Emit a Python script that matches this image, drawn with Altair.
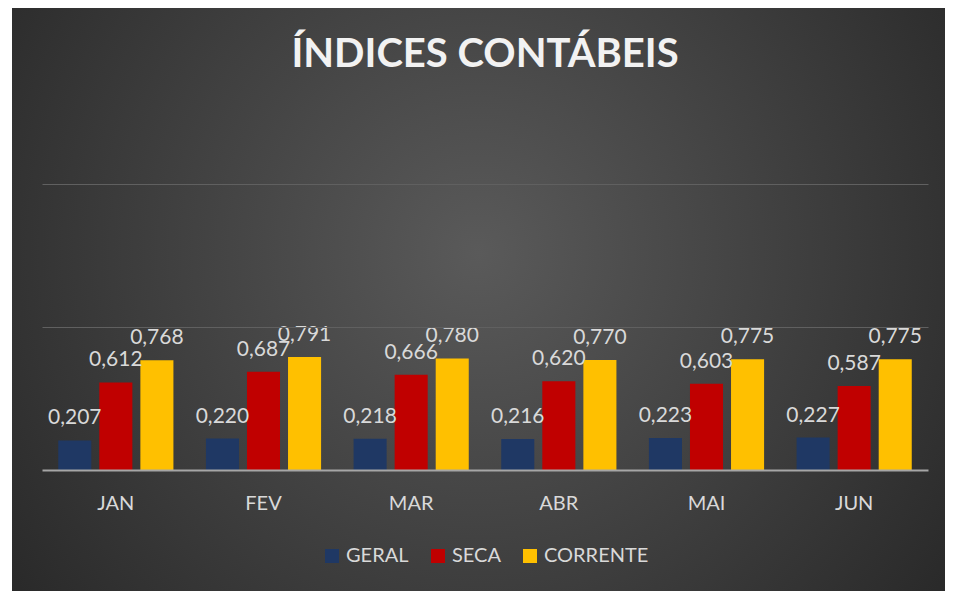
import altair as alt
import pandas as pd

months = ["JAN", "FEV", "MAR", "ABR", "MAI", "JUN"]
series = ["GERAL", "SECA", "CORRENTE"]
geral = [0.207, 0.220, 0.218, 0.216, 0.223, 0.227]
seca = [0.612, 0.687, 0.666, 0.620, 0.603, 0.587]
corrente = [0.768, 0.791, 0.780, 0.770, 0.775, 0.775]
colors = ["#1f3864", "#c00000", "#ffc000"]

rows = []
for s, vals in zip(series, [geral, seca, corrente]):
    for m, v in zip(months, vals):
        rows.append({"mes": m, "serie": s, "valor": v})
df = pd.DataFrame(rows)

W, H = 886, 286
PL, PT, PR, PB = 34, 176, 17, 121

bg = alt.Chart(pd.DataFrame({"k": [0]})).mark_rect(
    fill={
        "gradient": "radial",
        "x1": 0.5, "y1": 0.45, "r1": 0,
        "x2": 0.5, "y2": 0.45, "r2": 0.66,
        "stops": [
            {"offset": 0, "color": "#5a5a5a"},
            {"offset": 1, "color": "#262626"},
        ],
    }
).encode(
    x=alt.value(-30), x2=alt.value(W + PR),
    y=alt.value(-PT), y2=alt.value(H + PB),
)

xenc = alt.X("mes:N", sort=months, title=None,
             scale=alt.Scale(paddingInner=0.22, paddingOuter=0.11),
             axis=alt.Axis(labelAngle=0, labelColor="#d9d9d9", labelFontSize=20,
                           labelFont="Lato", labelPadding=23, ticks=False,
                           domainColor="#a6a6a6", domainWidth=2, grid=False, zindex=1))
xoff = alt.XOffset("serie:N", sort=series,
                   scale=alt.Scale(paddingInner=0.195, paddingOuter=0))
yenc = alt.Y("valor:Q", title=None,
             scale=alt.Scale(domain=[0, 2], nice=False, zero=True),
             axis=alt.Axis(values=[1, 2], labels=False, ticks=False, domain=False,
                           gridColor="#606060", gridWidth=1, zindex=1))

bars = alt.Chart(df).mark_bar().encode(
    x=xenc, xOffset=xoff, y=yenc,
    color=alt.Color("serie:N", sort=series,
                    scale=alt.Scale(domain=series, range=colors),
                    legend=alt.Legend(title=None, orient="none", direction="horizontal",
                                      legendX=280, legendY=362,
                                      symbolType="square", symbolSize=196,
                                      symbolStrokeWidth=0, symbolOpacity=1,
                                      labelColor="#d9d9d9", labelFontSize=20,
                                      labelFont="Lato", labelOffset=4,
                                      columnPadding=19)),
)

labels = alt.Chart(df).transform_calculate(
    txt="replace(format(datum.valor, '.3f'), '.', ',')"
).mark_text(font="Lato", fontSize=21, color="#d9d9d9",
            baseline="alphabetic", dy=-16).encode(
    x=alt.X("mes:N", sort=months),
    xOffset=alt.XOffset("serie:N", sort=series),
    y=alt.Y("valor:Q"),
    text="txt:N",
)

chart = alt.layer(bg, bars, labels).properties(
    width=W, height=H,
    padding={"left": PL, "top": PT, "right": PR, "bottom": PB},
    autosize=alt.AutoSizeParams(type="none"),
    background="white",
    title=alt.TitleParams(text="ÍNDICES CONTÁBEIS", font="Lato", fontSize=40,
                          fontWeight="bold", color="#f2f2f2", anchor="middle",
                          baseline="alphabetic", offset=-99),
).configure_view(stroke=None).configure(font="Lato")

chart.save("out.html", embed_options={"renderer": "svg", "actions": False})
